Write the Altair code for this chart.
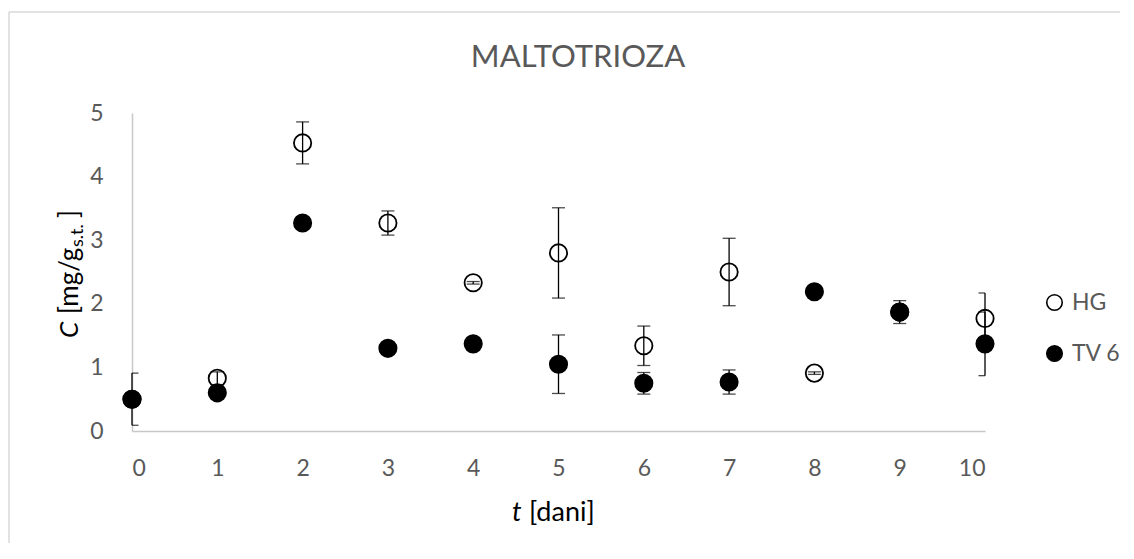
import altair as alt
import pandas as pd

# ---- data ----
days = [0, 1, 2, 3, 4, 5, 6, 7, 8, 9, 10]
hg = [0.50, 0.83, 4.53, 3.27, 2.33, 2.80, 1.34, 2.50, 0.91, 1.87, 1.77]
hg_err = [0.41, 0.10, 0.33, 0.19, 0.02, 0.71, 0.31, 0.53, 0.02, 0.04, 0.40]
tv6 = [0.50, 0.60, 3.27, 1.30, 1.37, 1.05, 0.75, 0.77, 2.19, 1.87, 1.37]
tv6_err = [0.04, 0.03, 0.03, 0.03, 0.03, 0.46, 0.17, 0.19, 0.03, 0.18, 0.50]
series_names = ["HG", "TV 6"]
title_text = "MALTOTRIOZA"
x_ticks = list(range(0, 11))
y_ticks = [0, 1, 2, 3, 4, 5]

rows = []
for name, vals, errs in [("HG", hg, hg_err), ("TV 6", tv6, tv6_err)]:
    for d, v, e in zip(days, vals, errs):
        rows.append({"t": d, "c": v, "lo": v - e, "hi": v + e, "series": name})
df = pd.DataFrame(rows)

W, H = 853, 318
FONT = "Lato"
GREY = "#595959"

xs = alt.Scale(domain=[0, 10], nice=False)
ys = alt.Scale(domain=[0, 5], nice=False)

x_enc = alt.X("t:Q", scale=xs, title=None,
              axis=alt.Axis(values=x_ticks, format="d", labelPadding=26))
y_enc = alt.Y("c:Q", scale=ys, title=None,
              axis=alt.Axis(values=y_ticks, format="d", labelPadding=29))

base = alt.Chart(df)

points = base.mark_point(filled=True, shape="circle", size=300, stroke="black",
                         strokeWidth=1.8, opacity=1).encode(
    x=x_enc, y=y_enc,
    fill=alt.Fill("series:N",
                  scale=alt.Scale(domain=series_names, range=["white", "black"]),
                  legend=alt.Legend(title=None, orient="none", legendX=911, legendY=178,
                                    symbolType="circle", symbolSize=240,
                                    symbolStrokeColor="black", symbolStrokeWidth=1.6,
                                    labelFont=FONT, labelFontSize=23, labelColor=GREY,
                                    labelOffset=6, rowPadding=27)),
)

rules = base.mark_rule(color="black", strokeWidth=1.3).encode(
    x=alt.X("t:Q", scale=xs), y=alt.Y("lo:Q", scale=ys), y2="hi:Q")

cap_lo = base.mark_tick(orient="horizontal", color="black", size=13, thickness=1.3,
                        clip=True).encode(x=alt.X("t:Q", scale=xs), y=alt.Y("lo:Q", scale=ys))
cap_hi = base.mark_tick(orient="horizontal", color="black", size=13, thickness=1.3,
                        clip=True).encode(x=alt.X("t:Q", scale=xs), y=alt.Y("hi:Q", scale=ys))

one = pd.DataFrame({"title": [title_text]})
title = alt.Chart(one).mark_text(font=FONT, fontSize=31, color=GREY, align="center",
                                 baseline="alphabetic").encode(
    text="title:N", x=alt.value(446), y=alt.value(-46))

def txt(s, x, y, size=26, style="normal", angle=0, align="left"):
    d = pd.DataFrame({"s": [s]})
    kw = dict(font=FONT, fontSize=size, color="black", align=align,
              baseline="alphabetic", fontStyle=style)
    if angle:
        kw["angle"] = angle
    return alt.Chart(d).mark_text(**kw).encode(text="s:N", x=alt.value(x), y=alt.value(y))

xt1 = txt("t", 380, 408, size=27, style="italic")
xt2 = txt("[dani]", 397, 408, size=27)
yt1 = txt("C", -54, 225, style="italic", angle=270)
yt2 = txt("[mg/g", -54, 201, angle=270)
yt3 = txt("s.t.", -49, 134, size=18, angle=270)
yt4 = txt("]", -54, 105, angle=270)

border_top = alt.Chart(one).mark_rule(color="#d9d9d9", strokeWidth=1.5, clip=False).encode(
    x=alt.value(-123), x2=alt.value(990), y=alt.value(-101))
border_left = alt.Chart(one).mark_rule(color="#d9d9d9", strokeWidth=1.5, clip=False).encode(
    x=alt.value(-123), y=alt.value(-101), y2=alt.value(430))

chart = alt.layer(border_top, border_left, points, rules, cap_lo, cap_hi, title,
                  xt1, xt2, yt1, yt2, yt3, yt4).properties(
    width=W, height=H,
    autosize=alt.AutoSizeParams(type="none"),
    padding={"left": 124, "top": 105, "right": 135, "bottom": 117},
).configure_view(stroke=None).configure_axis(
    grid=False, ticks=False, tickSize=0, domainColor="#c8c8c8", domainWidth=1.5,
    labelFont=FONT, labelFontSize=23, labelColor=GREY,
).configure_legend(padding=0)

chart.save("out.html", embed_options={"renderer": "svg", "actions": False})
